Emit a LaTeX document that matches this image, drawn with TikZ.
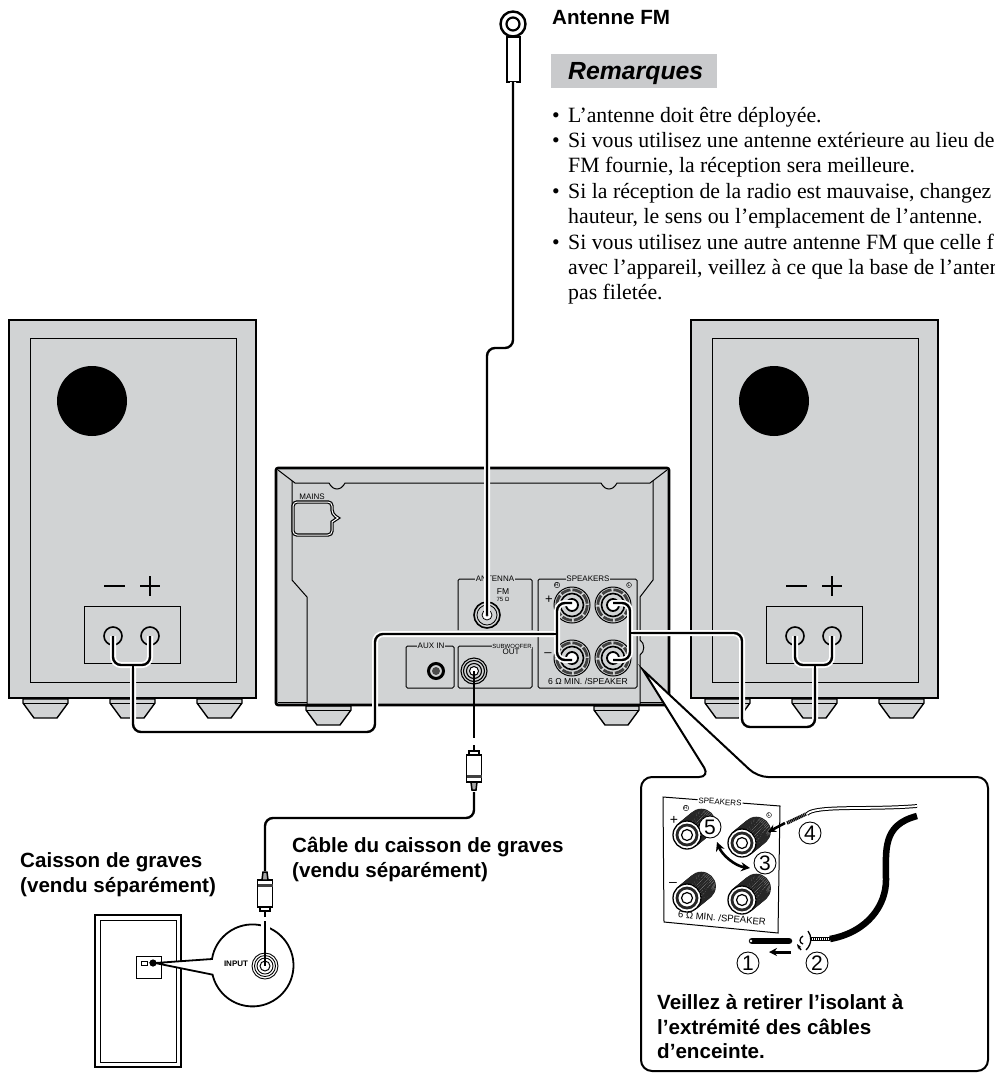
\documentclass[tikz,border=0pt]{standalone}
\usepackage{fontspec}
\setmainfont{Liberation Serif}
\setsansfont{Liberation Sans}
\usetikzlibrary{arrows.meta, calc}

\definecolor{panelgrey}{HTML}{D1D3D4}
\definecolor{headgrey}{HTML}{C9CACC}

\tikzset{
  heading/.style={font=\sffamily\bfseries\fontsize{20.6}{25}\selectfont, inner sep=0pt, anchor=base west},
  bodyline/.style={font=\fontsize{21.8}{25}\selectfont, inner sep=0pt, anchor=base west},
  tinylabel/.style={font=\sffamily\fontsize{8}{8}\selectfont, inner sep=0.8pt, fill=panelgrey},
  box/.style={draw, line width=1pt, rounded corners=1.5pt},
  casing/.style={draw, fill=panelgrey, line width=2.6pt},
  thinline/.style={line width=1pt},
  wire/.style={line width=2.4pt, rounded corners=8pt},
  halowire/.style={wire, preaction={draw=white, line width=6pt}},
  stepmark/.style={circle, draw, fill=white, line width=0.9pt, inner sep=0pt, minimum size=22pt, font=\sffamily\fontsize{21}{21}\selectfont}
}

\begin{document}
\begin{tikzpicture}[x=1pt, y=-1pt]

\useasboundingbox (0,0) rectangle (995,1076);

%% feet
\foreach \fx/\fy in {23/699, 110/699, 197/699, 705/699, 792/699, 879/699, 306/706, 594/706}{
  \draw[fill=panelgrey, line width=1.4pt] (\fx,\fy) -- ++(45,0) -- ++(0,4) -- ++(-11,15) -- ++(-23,0) -- ++(-11,-15) -- cycle;
  \draw[line width=0.8pt] (\fx,\fy+4) -- ++(45,0);
}

%% speakers
\foreach \ox/\sd in {0/L, 682/R}{
  \begin{scope}[xshift=\ox pt]
    \draw[casing] (9,320) rectangle (256,698);
    \draw[thinline] (30,338) rectangle (236,682);
    \fill (92,401) circle (35);
    \draw[line width=2.4pt] (104,586) -- (125,586);
    \draw[line width=1.5pt] (140,586) -- (160,586) (150,576) -- (150,596);
    \draw[thinline] (84,606) rectangle (180,663);
    \coordinate (dot\sd m) at (113,636);
    \coordinate (dot\sd p) at (150,636);
    \draw[line width=1.6pt] (dot\sd m) circle (9) (dot\sd p) circle (9);
    \coordinate (fork\sd) at (133,665);
  \end{scope}
}

%% main unit
\draw[casing, rounded corners=2pt] (276,468) rectangle (669,705);
\draw[thinline] (278,470) -- (295,483) -- (329,483) .. controls (333,491) and (341,491) .. (345,483) -- (601,483) .. controls (605,491) and (613,491) .. (617,483) -- (650,483) -- (667,470);
\draw[thinline] (292,481) -- (292,580) -- (307,597) -- (307,705);
\draw[thinline] (653,481) -- (653,580) -- (640,597) -- (640,640) .. controls (645,643) and (645,652) .. (640,655) -- (640,705);
\draw[thinline] (278,702) -- (307,702) (640,702) -- (667,702);

%% mains inlet
\node[tinylabel, fill=none] (mainslabel) at (312,497) {MAINS};
\draw[line width=1.2pt, double=white, double distance=1pt, rounded corners=4pt] (293,502) -- (332,502) -- (332,514) [sharp corners] -- (338,518) -- (332,522) [rounded corners=4pt] -- (332,535) -- (293,535) -- cycle;

%% rear panel boxes
\draw[box] (458,630) -- (458,579) -- (532,579) -- (532,630);
\draw[box] (406,646) rectangle (454,688);
\draw[box] (458,646) rectangle (532,688);
\draw[box] (538,579) rectangle (637,688);
\node[tinylabel] (antennalabel) at (495,579) {ANTENNA};
\node[tinylabel, font=\sffamily\fontsize{8.5}{8.5}\selectfont, fill=none] (fmlabel) at (503,592) {FM};
\node[tinylabel, font=\sffamily\fontsize{6}{6}\selectfont, fill=none] (ohmlabel) at (503,599) {75 Ω};
\node[tinylabel] (auxlabel) at (431,646) {AUX IN};
\node[tinylabel, font=\sffamily\fontsize{6}{6}\selectfont] (sublabel) at (512,646) {SUBWOOFER};
\node[tinylabel, fill=none] (outlabel) at (511,652) {OUT};
\node[tinylabel] (spklabel) at (588,579) {SPEAKERS};
\node[circle, draw, thin, inner sep=0.2pt, font=\sffamily\fontsize{5}{5}\selectfont] (rmark) at (557,585) {R};
\node[circle, draw, thin, inner sep=0.2pt, font=\sffamily\fontsize{5}{5}\selectfont] (lmark) at (629,585) {L};
\node[tinylabel, font=\sffamily\fontsize{13}{13}\selectfont, fill=none] (plusmark) at (549,600) {+};
\node[tinylabel, font=\sffamily\fontsize{13}{13}\selectfont, fill=none] (minusmark) at (548,655) {--};
\node[tinylabel, font=\sffamily\fontsize{8.6}{8.6}\selectfont, fill=none] (minlabel) at (588,681) {6 Ω MIN. /SPEAKER};

%% antenna, aux and subwoofer sockets
\coordinate (antsocket) at (487,615);
\coordinate (auxsocket) at (436,671);
\coordinate (subsocket) at (474,671);
\draw[fill=panelgrey, line width=1.6pt] (antsocket) circle (13);
\draw[line width=0.8pt] (antsocket) circle (10);
\draw[fill=white, line width=0.8pt] (antsocket) circle (5);
\fill (antsocket) circle (1.5);
\draw[line width=3pt] (auxsocket) circle (7.5);
\fill[black!70] (auxsocket) circle (4);
\draw[line width=1.1pt] (subsocket) circle (13) (subsocket) circle (10.5) (subsocket) circle (7.5);
\draw[fill=white, line width=1pt] (subsocket) circle (4.5);

%% speaker terminals
\coordinate (tRp) at (572,605);
\coordinate (tLp) at (613,605);
\coordinate (tRm) at (572,658);
\coordinate (tLm) at (613,658);
\foreach \c in {tRp, tLp, tRm, tLm}{
  \draw[line width=1pt] (\c) circle (18);
  \draw[line width=2.8pt, dash pattern=on 10pt off 2pt, black!75] (\c) circle (15.2);
  \draw[line width=1.6pt] (\c) circle (11.5);
  \draw[fill=white, line width=1.8pt] (\c) circle (6);
}

%% FM antenna lead
\coordinate (antplug) at (513,82);
\draw[line width=2.2pt, fill=white] (507,37) rectangle (520,82);
\node[circle, draw, line width=2.4pt, fill=white, inner sep=0pt, minimum size=25pt] (antring) at (513,24) {};
\node[circle, draw, line width=2.2pt, fill=white, inner sep=0pt, minimum size=13pt] (anteye) at (513,24) {};
\draw[halowire] (antplug) -- (513,348) -- (487,348) -- (antsocket);

%% speaker cables
\coordinate (busL) at (557,634);
\coordinate (busR) at (630,633);
\draw[halowire] (busL) -- (375,634) -- (375,732) -| (forkL);
\draw[halowire] (busR) -- (742,633) -- (742,727) -| (forkR);
\draw[halowire] ($(tRp)+(0,-2)$) -| (busL) |- ($(tRm)+(0,2)$);
\draw[halowire] ($(tLp)+(0,-2)$) -| (busR) |- ($(tLm)+(0,2)$);
\draw[wire] (busL) -- (550,634) (busR) -- (637,633);
\draw[halowire] (dotLm) -- ++(0,29) -| (dotLp);
\draw[halowire] (dotRm) -- ++(0,29) -| (dotRp);
\draw[wire] (forkL) -- ++(0,10);
\draw[wire] (forkR) -- ++(0,10);

%% subwoofer
\draw[line width=2.6pt] (95,915) rectangle (181,1067);
\draw[thinline] (100,920) rectangle (176,1062);
\draw[thinline] (136,956) rectangle (161,978);
\draw[line width=0.8pt] (141,961) rectangle (147,965);
\fill (153,963) circle (3.6);
\coordinate (tipA) at (155,963);
\draw[fill=white, line width=1.8pt] (tipA) -- (212,959) arc[start angle=189, end angle=527, radius=41] -- cycle;
\node[font=\sffamily\bfseries\fontsize{8}{8}\selectfont, inner sep=0pt] (inputlabel) at (236,964) {INPUT};
\coordinate (inputjack) at (265,966);
\foreach \r in {13, 10.5, 8}{ \draw[line width=0.9pt] (inputjack) circle (\r); }
\draw[fill=white, line width=1pt] (inputjack) circle (5);

%% subwoofer cable and plugs
\draw[line width=2.4pt] (subsocket) -- (474,738);
\coordinate (plugA) at (474,792);
\coordinate (plugB) at (265,871);
\draw[wire] (plugA) -- ++(0,26) -| (plugB);
\draw[line width=9pt, white] (265,919) -- (265,945);
\draw[line width=2.4pt] (265,921) -- (inputjack);
\foreach \px/\py/\ps in {474/745/1, 265/917/-1}{
  \begin{scope}[shift={(\px,\py)}, yscale=\ps]
    \draw[line width=1.4pt] (0,0) -- (0,6);
    \draw[line width=1.4pt, fill=white] (-5,6) rectangle (5,10);
    \draw[line width=1.5pt, fill=white] (-7.5,10) rectangle (7.5,37);
    \fill[black!75] (-7.5,30) rectangle (7.5,33);
    \draw[line width=1.5pt, fill=black!35] (-3,37) -- (3,37) -- (2,45) -- (-2,45) -- cycle;
  \end{scope}
}

%% callout with the stripping detail
\coordinate (tipB) at (643,670);
\draw[fill=white, line width=2pt, rounded corners=11pt] (710,777) [sharp corners] -- (tipB) -- (750,770) [rounded corners=11pt] -- (757,777) -- (988,777) -- (988,1071) -- (641,1071) -- (641,777) -- cycle;

%% inset panel
\draw[line width=1pt, fill=white] (663,797) -- (780,806) -- (778,933) -- (664,922) -- cycle;
\node[font=\sffamily\fontsize{8}{8}\selectfont, fill=white, inner sep=1pt, rotate=-4] (insetspk) at (720,802) {SPEAKERS};
\node[circle, draw, thin, inner sep=0.2pt, font=\sffamily\fontsize{5}{5}\selectfont] (insetR) at (686,808) {R};
\node[circle, draw, thin, inner sep=0.2pt, font=\sffamily\fontsize{5}{5}\selectfont] (insetL) at (769,815) {L};
\node[font=\sffamily\fontsize{14}{14}\selectfont, inner sep=0pt] (insetplus) at (674,820) {+};
\node[font=\sffamily\fontsize{14}{14}\selectfont, inner sep=0pt] (insetminus) at (673,884) {--};
\node[font=\sffamily\fontsize{9.5}{9.5}\selectfont, inner sep=0pt, rotate=-5] (insetmin) at (722,918) {6 Ω MIN. /SPEAKER};

%% inset terminals
\foreach \tx/\ty in {687/835, 742/843, 687/898, 742/900}{
  \foreach \k in {13,12,...,1}{
    \draw[line width=1.2pt, black!85, fill=white] ($(\tx,\ty)+(\k*1.1,-\k*0.9)$) circle (14);
  }
  \foreach \k in {10,8,...,2}{
    \draw[line width=3pt, dash pattern=on 1.5pt off 1.5pt, black!85] ($(\tx,\ty)+(\k*1.1,-\k*0.9)$) circle (12.5);
  }
  \draw[line width=1.3pt, fill=white] (\tx,\ty) circle (14);
  \draw[line width=2.8pt, black!85] (\tx,\ty) circle (10);
  \draw[line width=1.2pt, fill=white] (\tx,\ty) circle (5.5);
}

%% step marks
\node[stepmark] (stepfive) at (710,827) {5};
\node[stepmark] (stepthree) at (765,863) {3};
\node[stepmark] (stepfour) at (810,833) {4};
\node[stepmark] (stepone) at (748,963) {1};
\node[stepmark] (steptwo) at (817,963) {2};

%% speaker leads
\draw[line width=6.5pt] (830,939) .. controls (868,932) and (886,905) .. (886,880) .. controls (886,850) and (882,825) .. (917,816);
\draw[line width=3.6pt] (810,939) -- (830,939);
\draw[line width=2.2pt, white, dash pattern=on 1pt off 1pt] (810,939) -- (830,939);
\draw[line width=3.8pt] (807,814) .. controls (815,805) and (870,810) .. (917,806);
\draw[line width=1.8pt, white] (807,814) .. controls (815,805) and (870,810) .. (917,806);
\draw[line width=3.4pt, dash pattern=on 1.2pt off 0.6pt] (787,823) -- (806,814);

%% stripped insulation piece and small arrows
\draw[line width=6.5pt, line cap=round] (752,941) -- (789,941);
\fill[white] (751,941) circle (1.4);
\draw[line width=1.3pt] (808,931) .. controls (812,936) and (812,944) .. (806,950);
\draw[line width=1.3pt] (803,936) .. controls (799,938) and (799,943) .. (803,944);
\draw[line width=1.5pt, -{Stealth[length=5pt]}] (801,950) -- (797,944);
\draw[line width=3pt, -{Stealth[length=8pt, width=8pt]}] (791,952) -- (769,952);
\draw[line width=2.6pt, -{Stealth[length=8pt, width=8pt]}] (785,823) -- (768,832);
\draw[line width=2.6pt, {Stealth[length=9pt, width=9pt]}-{Stealth[length=9pt, width=9pt]}] (717,842) .. controls (722,855) and (735,866) .. (750,868);

%% heading texts
\node[heading] (fmtitle) at (552,24) {Antenne FM};
\node[fill=headgrey, minimum width=166pt, minimum height=34pt, inner sep=0pt] (remarkband) at (634,71) {};
\node[heading, font=\sffamily\bfseries\itshape\fontsize{24.8}{25}\selectfont] (remarktitle) at (568,79) {Remarques};

%% remarks
\foreach \yy in {122, 147, 198, 249}{
  \node[bodyline] at (552,\yy) {•};
}
\foreach \yy/\txt [count=\n] in {
  122/{L’antenne doit être déployée.},
  147/{Si vous utilisez une antenne extérieure au lieu de},
  172/{FM fournie, la réception sera meilleure.},
  198/{Si la réception de la radio est mauvaise, changez},
  223/{hauteur, le sens ou l’emplacement de l’antenne.},
  249/{Si vous utilisez une autre antenne FM que celle f},
  274/{avec l’appareil, veillez à ce que la base de l’anter},
  299/{pas filetée.}}{
  \node[bodyline] (remark\n) at (568,\yy) {\txt};
}

%% labels
\node[heading] (cablelabela) at (292,852) {Câble du caisson de graves};
\node[heading] (cablelabelb) at (292,877) {(vendu séparément)};
\node[heading] (sublabela) at (20,867) {Caisson de graves};
\node[heading] (sublabelb) at (20,892) {(vendu séparément)};
\node[heading] (notea) at (657,1009) {Veillez à retirer l’isolant à};
\node[heading] (noteb) at (657,1034) {l’extrémité des câbles};
\node[heading] (notec) at (657,1058) {d’enceinte.};

\end{tikzpicture}
\end{document}
